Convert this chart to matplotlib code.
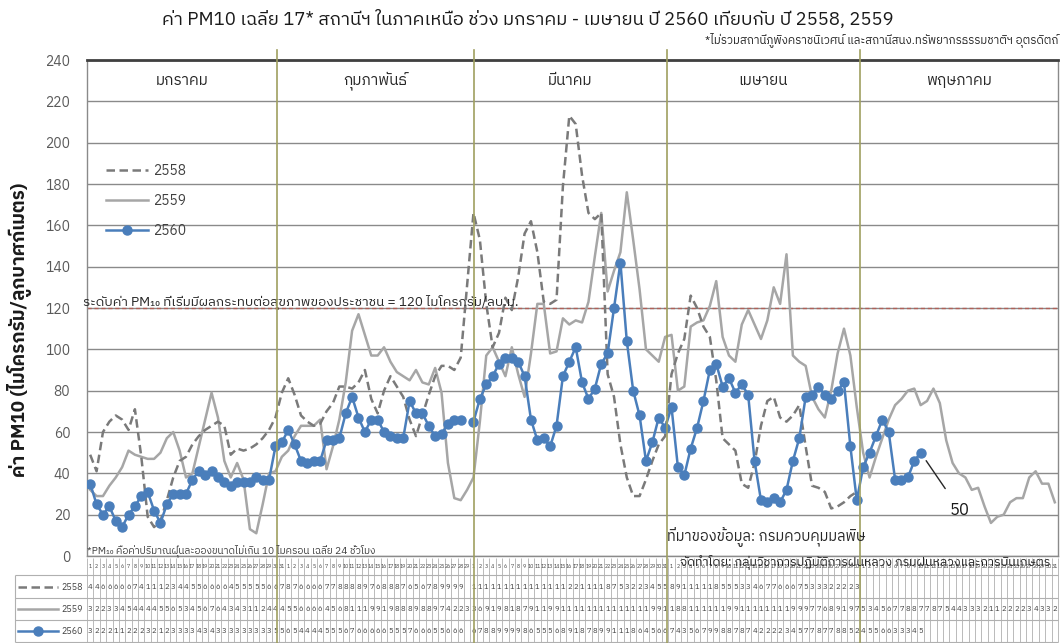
import numpy as np
import matplotlib
matplotlib.use('Agg')
import matplotlib.pyplot as plt
from matplotlib import font_manager as fm
from matplotlib.ft2font import FT2Font
from matplotlib.lines import Line2D

nan = np.nan

# ---------------- data ----------------
month_names = ['มกราคม', 'กุมภาพันธ์', 'มีนาคม', 'เมษายน', 'พฤษภาคม']
month_days = [31, 29, 31, 30, 31]
series_years = ['2558', '2559', '2560']

pm10_2558 = [49, 41, 60, 65, 68, 66, 61, 71, 48, 19, 14, 17, 27, 38, 46, 48, 54, 58, 61, 63,
             65, 63, 49, 52, 51, 52, 54, 57, 61, 67, 79,
             86, 78, 68, 65, 63, 64, 70, 74, 82, 82, 81, 84, 90, 76, 69, 80, 87, 82, 77, 66,
             58, 68, 78, 87, 92, 92, 90, 96, nan,
             166, 153, 122, 101, 108, 125, 119, 135, 156, 162, 147, 123, 122, 124, 179, 213,
             209, 184, 166, 163, 166, 88, 77, 54, 38, 29, 29, 37, 46, 54, 58,
             88, 98, 105, 126, 120, 111, 106, 85, 57, 54, 51, 35, 33, 45, 63, 75, 77, 67, 65,
             68, 73, 53, 34, 33, 31, 23, 24, 26, 29, 31]

pm10_2559 = [32, 29, 29, 34, 38, 43, 51, 49, 48, 47, 47, 50, 57, 60, 51, 38, 40, 53, 66, 79,
             67, 46, 38, 45, 37, 13, 11, 25, 40, 41, 48,
             51, 58, 63, 63, 63, 66, 42, 53, 66, 84, 109, 117, 107, 97, 97, 101, 94, 89, 87, 85,
             90, 84, 83, 91, 79, 45, 28, 27, 32,
             38, 65, 97, 101, 94, 87, 101, 88, 77, 98, 122, 122, 98, 99, 115, 112, 114, 113, 123,
             145, 166, 128, 138, 147, 176, 153, 129, 100, 97, 94, 106,
             107, 80, 82, 111, 113, 114, 121, 133, 106, 97, 94, 112, 119, 112, 105, 114, 130, 122,
             146, 97, 94, 92, 77, 71, 67, 80, 98, 110, 97, 72,
             50, 38, 48, 57, 66, 73, 76, 80, 81, 73, 75, 81, 74, 56, 45, 40, 38, 32, 33, 24,
             16, 19, 20, 26, 28, 28, 38, 41, 35, 35, 26]

pm10_2560 = [35, 25, 20, 24, 17, 14, 20, 24, 29, 31, 22, 16, 25, 30, 30, 30, 37, 41, 39, 41,
             38, 36, 34, 36, 36, 36, 38, 37, 37, 53, 55,
             61, 54, 46, 45, 46, 46, 56, 56, 57, 69, 77, 67, 60, 66, 66, 60, 58, 57, 57, 75,
             69, 69, 63, 58, 59, 64, 66, 66, nan,
             65, 76, 83, 87, 93, 96, 96, 94, 87, 66, 56, 57, 53, 63, 87, 94, 101, 84, 76, 81,
             93, 98, 120, 142, 104, 80, 68, 46, 55, 67, 62,
             72, 43, 39, 52, 62, 75, 90, 93, 82, 86, 79, 83, 78, 46, 27, 26, 28, 26, 32, 46,
             57, 77, 78, 82, 78, 76, 80, 84, 53, 27,
             43, 50, 58, 66, 60, 37, 37, 38, 46, 50]

threshold = 120

title = 'ค่า PM10 เฉลี่ย 17* สถานีฯ ในภาคเหนือ ช่วง มกราคม - เมษายน ปี 2560 เทียบกับ ปี 2558, 2559'
subtitle = '*ไม่รวมสถานีภูพิงคราชนิเวศน์ และสถานีสนง.ทรัพยากรธรรมชาติฯ อุตรดิตถ์'
ylabel = 'ค่า PM10 (ไมโครกรัม/ลูกบาศก์เมตร)'
threshold_label = 'ระดับค่า PM₁₀ ที่เริ่มมีผลกระทบต่อสุขภาพของประชาชน = 120 ไมโครกรัม/ลบ.ม.'
footnote = '*PM₁₀ คือค่าปริมาณฝุ่นละอองขนาดไม่เกิน 10 ไมครอน เฉลี่ย 24 ชั่วโมง'
source1 = 'ที่มาของข้อมูล: กรมควบคุมมลพิษ'
source2 = 'จัดทำโดย: กลุ่มวิชาการปฏิบัติการฝนหลวง กรมฝนหลวงและการบินเกษตร'

# ---------------- fonts ----------------
def find_thai_family():
    entries = list(fm.fontManager.ttflist)
    entries.sort(key=lambda f: (0 if 'thai' in f.name.lower() else 1, f.name))
    seen = set()
    for f in entries:
        if f.name in seen:
            continue
        seen.add(f.name)
        try:
            if 0x0E01 in FT2Font(f.fname).get_charmap():
                return f.name
        except Exception:
            continue
    return None

thai = find_thai_family()
families = ([thai] if thai else []) + ['DejaVu Sans']
plt.rcParams['font.family'] = families

# ---------------- layout ----------------
W, H = 1063, 643
L, R, T, B = 87, 1058, 60, 556
divider_px = [277, 474, 667, 860]

n_days = sum(month_days)
x = np.arange(n_days)

def pad(v):
    a = np.full(n_days, np.nan)
    a[:len(v)] = v
    return a

s58, s59, s60 = pad(pm10_2558), pad(pm10_2559), pad(pm10_2560)
day_numbers = np.concatenate([np.arange(1, d + 1) for d in month_days])

c58, c59, c60 = '#7a7a7a', '#a6a6a6', '#4a7ebb'
dash58 = (0, (3.4, 1.8))

fig = plt.figure(figsize=(W / 100, H / 100), dpi=100)
fig.patch.set_facecolor('white')

ax = fig.add_axes([L / W, 1 - B / H, (R - L) / W, (B - T) / H])
ax.set_xlim(-0.5, n_days - 0.5)
ax.set_ylim(0, 240)
ax.set_yticks(np.arange(0, 241, 20))
ax.set_xticks([])
ax.yaxis.grid(True, color='#8a8a8a', lw=1)
ax.set_axisbelow(True)
ax.tick_params(axis='y', length=0, pad=12, labelsize=10, labelcolor='#595959')
for s in ['left', 'right', 'bottom']:
    ax.spines[s].set_color('#8a8a8a')
    ax.spines[s].set_linewidth(1)
ax.spines['top'].set_color('#404040')
ax.spines['top'].set_linewidth(2)

ax.axhline(threshold, color='#b06058', lw=1, ls=(0, (3, 2)), zorder=2)

m59 = ~np.isnan(s59)
ax.plot(x[m59], s59[m59], color=c59, lw=1.8, zorder=3)
m58 = ~np.isnan(s58)
ax.plot(x[m58], s58[m58], color=c58, lw=1.8, ls=dash58, zorder=4)
ax.plot(x, s60, color=c60, lw=1.8, marker='o', ms=6.5, mfc=c60, mec=c60, zorder=5)

# month labels
edges = [L] + divider_px + [R]
for i, name in enumerate(month_names):
    cx = (edges[i] + edges[i + 1]) / 2
    fig.text(cx / W, 1 - 81 / H, name, ha='center', va='center', fontsize=11, color='#262626')

# month dividers
for px in divider_px:
    fig.add_artist(Line2D([px / W, px / W], [1 - 50 / H, 0], transform=fig.transFigure,
                          color='#a0a060', lw=1.2, zorder=6))

# threshold text
fig.text(83 / W, 1 - 302 / H, threshold_label, ha='left', va='center', fontsize=9.7,
         color='#262626')

# legend
handles = [Line2D([], [], color=c58, lw=1.8, ls=dash58),
           Line2D([], [], color=c59, lw=1.8),
           Line2D([], [], color=c60, lw=1.8, marker='o', ms=6.5)]
ax.legend(handles, series_years, loc='upper left', bbox_to_anchor=(0.02, 0.79), frameon=False,
          fontsize=10, handlelength=3.0, handletextpad=0.35, labelspacing=1.15, borderpad=0,
          borderaxespad=0, labelcolor='#404040')

# last value annotation
last_idx = int(np.where(~np.isnan(s60))[0][-1])
ax.annotate(f'{s60[last_idx]:.0f}', xy=(last_idx, s60[last_idx]), xytext=(39, -57),
            textcoords='offset pixels', fontsize=12, ha='center', va='center', color='#1a1a1a',
            arrowprops=dict(arrowstyle='-', color='#262626', lw=1, shrinkA=9, shrinkB=7), zorder=7)

# titles
fig.text(528 / W, 1 - 20 / H, title, ha='center', va='center', fontsize=13.3, color='#1a1a1a')
fig.text(1058 / W, 1 - 40 / H, subtitle, ha='right', va='center', fontsize=8.3, style='italic',
         color='#262626')
fig.text(20 / W, 1 - 330 / H, ylabel, ha='center', va='center', rotation=90, fontsize=13.5,
         fontweight='bold', color='#1a1a1a')

# ---------------- data table ----------------
tax = fig.add_axes([L / W, 0, (R - L) / W, (H - B) / H])
tax.set_xlim(-0.5, n_days - 0.5)
tax.set_ylim(H, B)
tax.axis('off')
col_w = (R - L) / n_days

def px2x(px):
    return -0.5 + (px - L) / col_w

grid_c = '#b0b0b0'
tax.vlines(np.arange(n_days + 1) - 0.5, 558, 642, color=grid_c, lw=0.6, clip_on=False)
tax.hlines([575, 598, 620, 642], px2x(15), n_days - 0.5, color=grid_c, lw=0.8, clip_on=False)
tax.vlines([px2x(15)], 575, 642, color=grid_c, lw=0.8, clip_on=False)

row_y = [587, 609, 631]
for k in range(n_days):
    tax.text(k, 566, str(day_numbers[k]), ha='center', va='center', fontsize=3.8,
             color='#404040', clip_on=False)
for yy, ser in zip(row_y, [s58, s59, s60]):
    for k in range(n_days):
        v = ser[k]
        if not np.isnan(v):
            tax.text(k, yy, str(int(round(v)))[0], ha='center', va='center', fontsize=5.5,
                     color='#404040', clip_on=False)

key_styles = [dict(color=c58, lw=1.8, ls=dash58), dict(color=c59, lw=1.8),
              dict(color=c60, lw=1.8)]
for yy, yr, st in zip(row_y, series_years, key_styles):
    tax.add_line(Line2D([px2x(18), px2x(58)], [yy, yy], clip_on=False, **st))
    tax.text(px2x(61), yy, yr, ha='left', va='center', fontsize=6.5, color='#404040', clip_on=False)
tax.plot([px2x(38)], [row_y[2]], marker='o', ms=6.5, color=c60, clip_on=False)

# footnotes
fig.text(87 / W, 1 - 551 / H, footnote, ha='left', va='center', fontsize=7.3, style='italic',
         color='#404040', zorder=8)
fig.text(667 / W, 1 - 537 / H, source1, ha='left', va='center', fontsize=10.5, style='italic',
         color='#262626', zorder=8)
fig.text(680 / W, 1 - 562 / H, source2, ha='left', va='center', fontsize=9, style='italic',
         color='#262626', zorder=8)

fig.savefig('out.png', dpi=100, facecolor='white')
